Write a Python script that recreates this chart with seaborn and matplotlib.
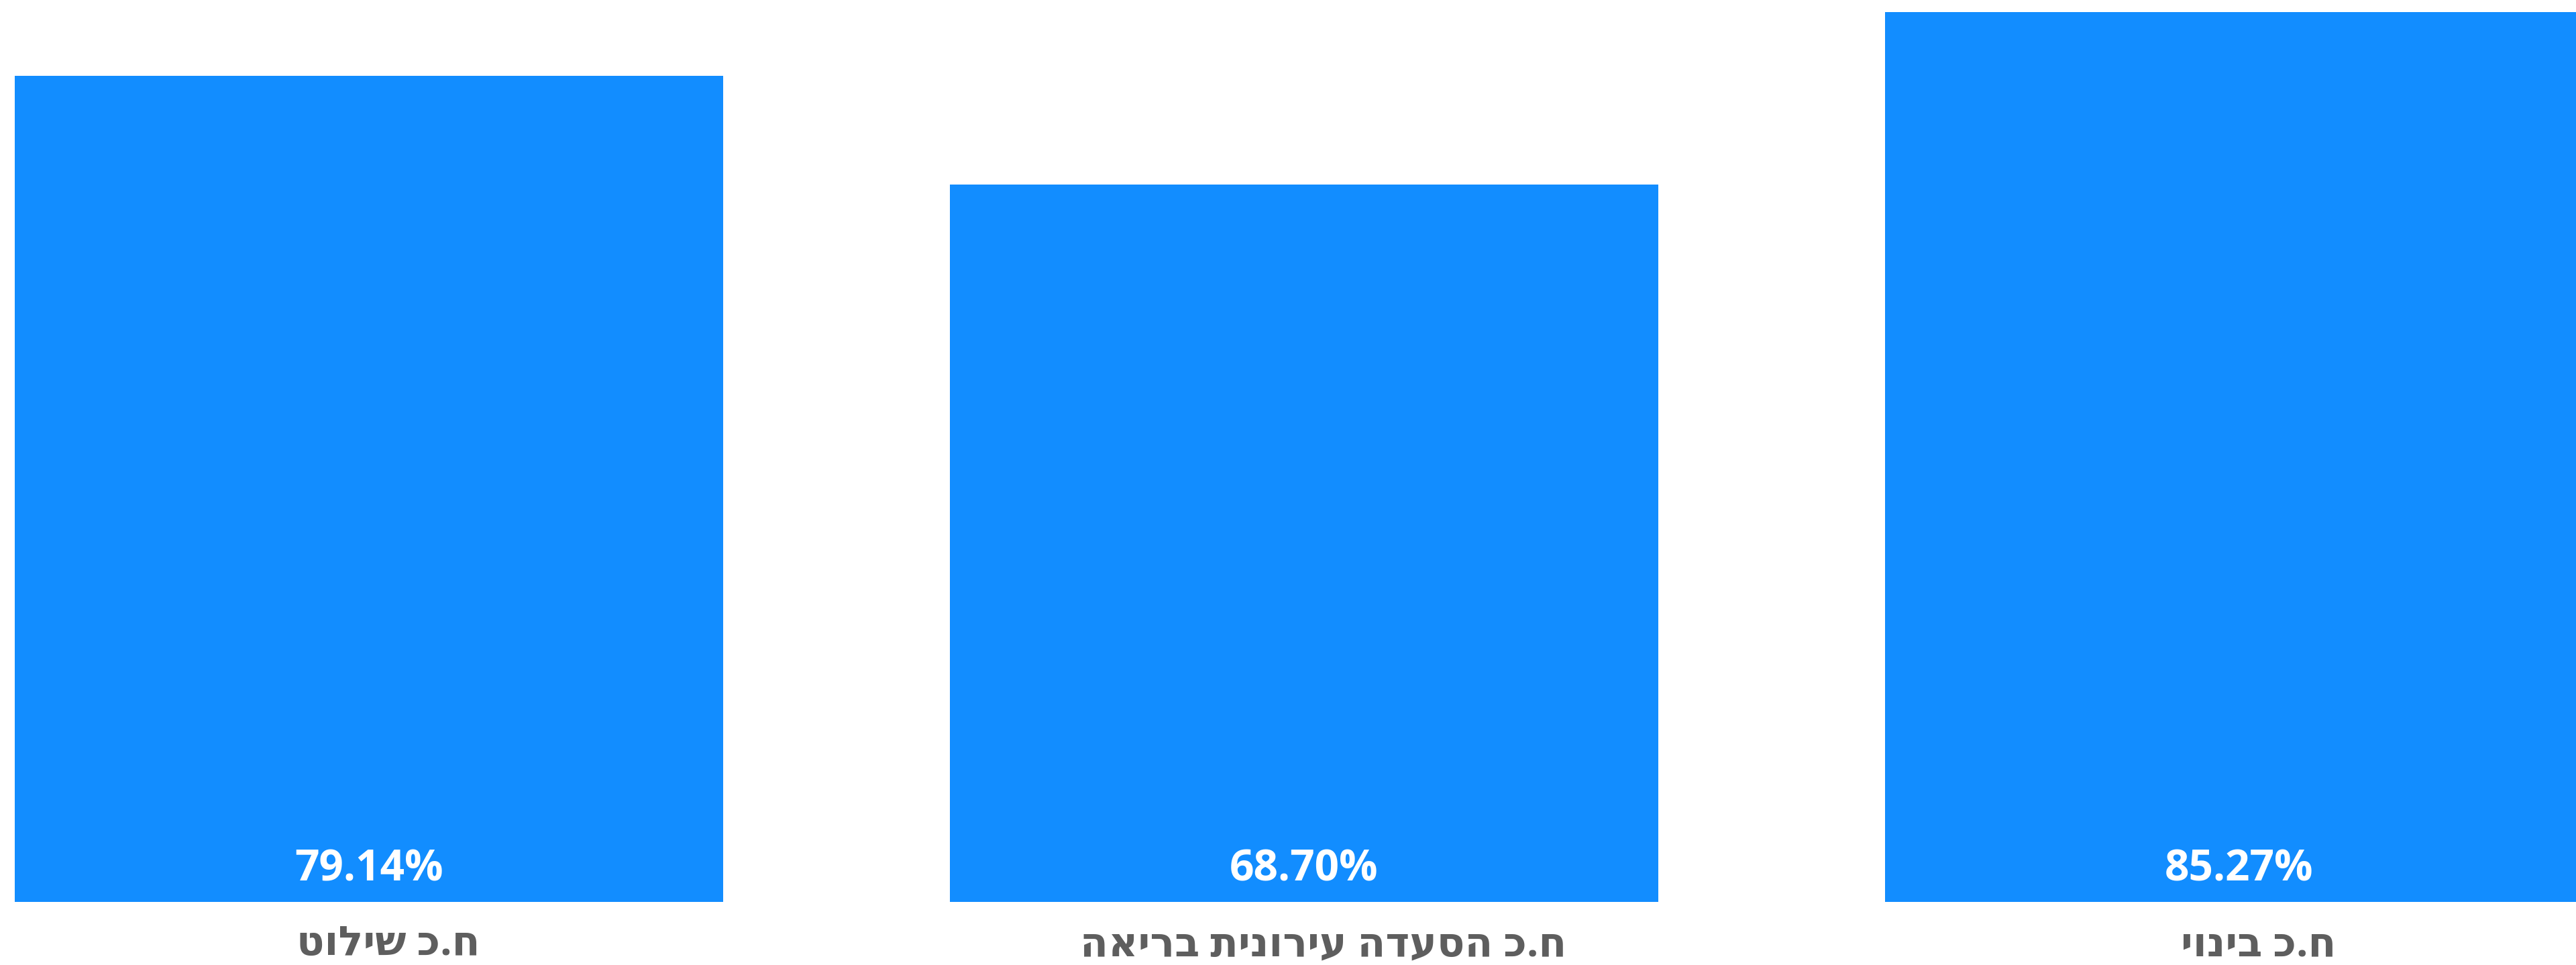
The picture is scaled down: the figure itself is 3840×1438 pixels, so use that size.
import matplotlib
matplotlib.use("Agg")
import matplotlib.pyplot as plt
import seaborn as sns
import pandas as pd

# Data (logical Hebrew order)
categories = ["ח.כ שילוט", "ח.כ הסעדה עירונית בריאה", "ח.כ בינוי"]
values = [79.14, 68.70, 85.27]
value_labels = ["79.14%", "68.70%", "85.27%"]

bar_color = "#128DFF"
label_color = "#5E5E5E"

sns.set_theme(style="white")
plt.rcParams["font.family"] = ["Open Sans", "DejaVu Sans"]

df = pd.DataFrame({"cat": categories, "val": values})

fig = plt.figure(figsize=(38.41, 14.38), dpi=100)
ax = fig.add_axes([0, 1 - 1344 / 1438, 1, 1344 / 1438])

sns.barplot(data=df, x="cat", y="val", color=bar_color, saturation=1,
            width=0.7576, ax=ax, edgecolor="none", linewidth=0)

ax.set_xlim(-0.3946, 2.361)
ax.set_ylim(0, 86.4)
ax.set_xlabel("")
ax.set_ylabel("")
ax.set_yticks([])
ax.set_xticklabels([])
ax.tick_params(axis="x", length=0)
for s in ax.spines.values():
    s.set_visible(False)

# category labels (reversed so that left-to-right layout shows RTL order)
for i, cat in enumerate(categories):
    ax.annotate(cat[::-1], (i, 0), xytext=(21, -57.6), textcoords="offset points",
                ha="center", va="baseline", color=label_color,
                fontsize=44, fontweight="bold", annotation_clip=False)

for i, txt in enumerate(value_labels):
    ax.annotate(txt, (i, 0), xytext=(0, 23), textcoords="offset points",
                ha="center", va="baseline", color="white",
                fontsize=46, fontweight="bold")

fig.savefig("out.png", dpi=100, facecolor="white")
